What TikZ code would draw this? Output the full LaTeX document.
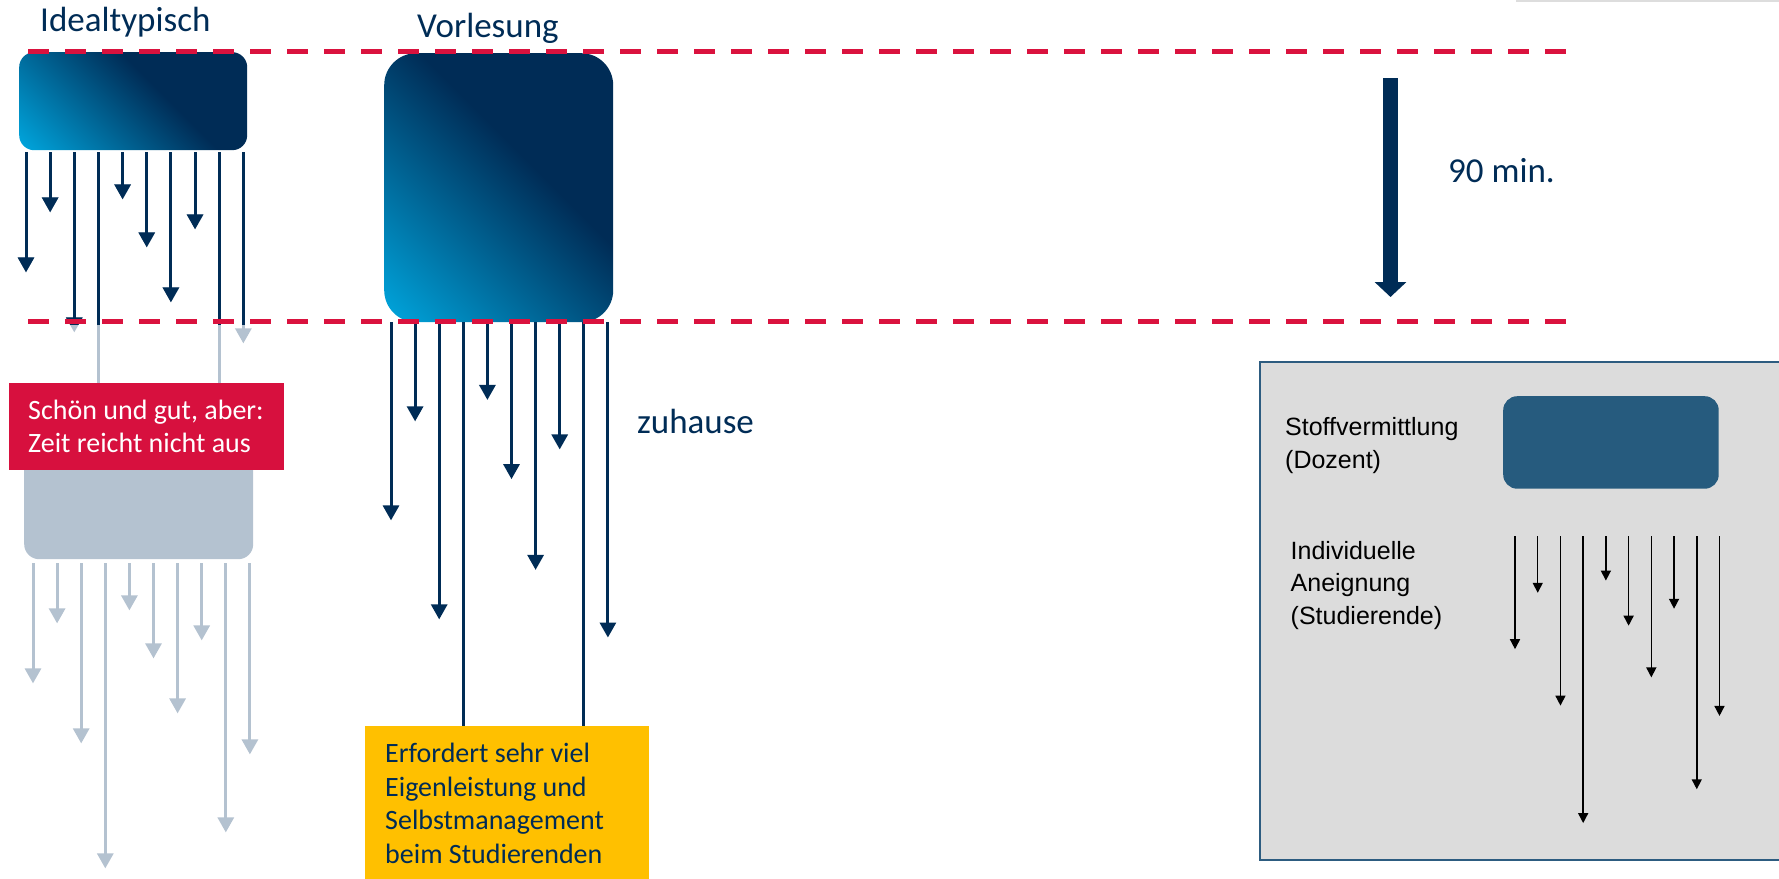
\documentclass[tikz,border=0pt]{standalone}
\usepackage{fontspec}
\setmainfont{Carlito}
\newfontfamily\arialf{Liberation Sans}
\usetikzlibrary{arrows.meta,calc}

\definecolor{navyC}{RGB}{0,44,86}
\definecolor{cyanC}{RGB}{0,163,218}
\definecolor{dashred}{RGB}{218,18,62}
\definecolor{alertred}{RGB}{215,16,62}
\definecolor{ghost}{RGB}{180,194,208}
\definecolor{amber}{RGB}{255,192,0}
\definecolor{panelgray}{RGB}{220,220,220}
\definecolor{panelline}{RGB}{45,92,128}
\definecolor{panelbox}{RGB}{38,91,126}
\definecolor{hairgray}{RGB}{221,221,221}

% diagonal gradient of the lecture blocks: light cyan bottom left, navy top right
\pgfdeclareverticalshading{lecgrad}{100bp}{color(0bp)=(cyanC); color(16bp)=(cyanC); color(58bp)=(navyC); color(100bp)=(navyC)}

\tikzset{
  lecbox/.style={rounded corners=#1, shading=lecgrad, shading angle=-45,
    inner sep=0pt, anchor=north west},
  ghostbox/.style={fill=ghost, rounded corners=15pt, inner sep=0pt, anchor=north west},
  flatbox/.style={inner sep=0pt, anchor=north west},
  bound/.style={dashred, line width=5pt, dash pattern=on 21pt off 16pt},
  darrow/.style={navyC, line width=3pt, -{Triangle[width=16pt,length=15pt]}},
  garrow/.style={ghost, line width=3pt, -{Triangle[width=16pt,length=15pt]}},
  karrow/.style={black, line width=1.5pt, -{Triangle[width=10pt,length=10pt]}},
  bigarrow/.style={navyC, line width=15pt, -{Triangle[width=31pt,length=15pt]}},
  heading/.style={navyC, inner sep=0pt, anchor=base west,
    font=\fontsize{35pt}{42pt}\selectfont},
  % multi-line texts are placed by the baseline of their last line
  boxtext/.style={inner sep=0pt, anchor=base west, align=left,
    font=\fontsize{28pt}{33.4pt}\selectfont},
  legendtext/.style={black, inner sep=0pt, anchor=base west, align=left,
    font=\arialf\fontsize{25pt}{32.5pt}\selectfont},
}

\begin{document}
\begin{tikzpicture}[x=1pt,y=-1pt]
\useasboundingbox (0,0) rectangle (1779,878);
\clip (0,0) rectangle (1779,878);

% hairline at the top edge
\fill[hairgray] (1516,0) rectangle (1779,1.7);

% ---------- left column: ideal case ----------
\node[heading] (lblideal) at (40,31) {Idealtypisch};
\node[lecbox=15pt, minimum width=228pt, minimum height=98pt] (ideal) at (19,52) {};

% faded copy below
\node[ghostbox, minimum width=229pt, minimum height=104pt] (ghostblk) at (24,455) {};
\foreach \L [count=\i from 0] in {120,60,180,305,47,95,150,77,269,191}
  \draw[garrow] ($(ghostblk.south west)+(9+24.1*\i,4)$) -- ++(0,\L);

% arrows of the ideal block: faded below the lower bound, dark above it
\foreach \L [count=\i from 0] in {120,60,180,305,47,95,150,77,269,191}
  \draw[garrow] ($(ideal.south west)+(7+24.15*\i,2)$) -- ++(0,\L);
\begin{scope}
  \clip (0,0) rectangle (300,324);
  \foreach \L [count=\i from 0] in {120,60,180,305,47,95,150,77,269,191}
    \draw[darrow] ($(ideal.south west)+(7+24.15*\i,2)$) -- ++(0,\L);
\end{scope}

\node[flatbox, fill=alertred, minimum width=275pt, minimum height=87pt] (warn) at (9,383) {};
\node[boxtext, white] (warntxt) at ($(warn.north west)+(19,69.6)$)
  {Schön und gut, aber:\\Zeit reicht nicht aus};

% ---------- middle column: lecture ----------
\node[heading] (lbllec) at (417,37) {Vorlesung};
\node[lecbox=32pt, minimum width=229pt, minimum height=269pt] (lecture) at (384,53) {};
\foreach \L [count=\i from 0] in {120,60,180,305,47,95,150,77,269,191}
  \draw[darrow] ($(lecture.south west)+(7+24.1*\i,0)$) -- ++(0,1.65*\L);

\node[flatbox, fill=amber, minimum width=284pt, minimum height=170pt] (effort) at (365,726) {};
\node[boxtext, navyC] (efforttxt) at ($(effort.north west)+(20,137)$)
  {Erfordert sehr viel\\Eigenleistung und\\Selbstmanagement\\beim Studierenden};

\node[heading] (lblhome) at (637,433) {zuhause};

% ---------- duration ----------
\coordinate (durtop) at (1390.5,78);
\coordinate (durend) at (1390.5,297);
\draw[bigarrow] (durtop) -- (durend);
\node[heading] (lbldur) at (1448,182) {90 min.};

% ---------- bounds of the 90 minutes ----------
\coordinate (upL) at (28,51.5);
\coordinate (upR) at (1566,51.5);
\coordinate (loL) at (28,321.5);
\coordinate (loR) at (1566,321.5);
\draw[bound] (upL) -- (upR);
\draw[bound] (loL) -- (loR);

% ---------- legend ----------
\node[flatbox, draw=panelline, line width=2pt, fill=panelgray,
  minimum width=540pt, minimum height=498pt] (legend) at (1259,361) {};
\node[flatbox, fill=panelbox, rounded corners=14pt,
  minimum width=215.5pt, minimum height=92.5pt] (dozent) at (1503,396) {};
\node[legendtext] (lgtop) at (1285,468) {Stoffvermittlung\\(Dozent)};
\node[legendtext] (lgbot) at (1290.5,624) {Individuelle\\Aneignung\\(Studierende)};
\foreach \L [count=\i from 0] in {120,60,180,305,47,95,150,77,269,191}
  \draw[karrow] ($(dozent.south west)+(12+22.72*\i,47.5)$) -- ++(0,0.94*\L);
\end{tikzpicture}
\end{document}
